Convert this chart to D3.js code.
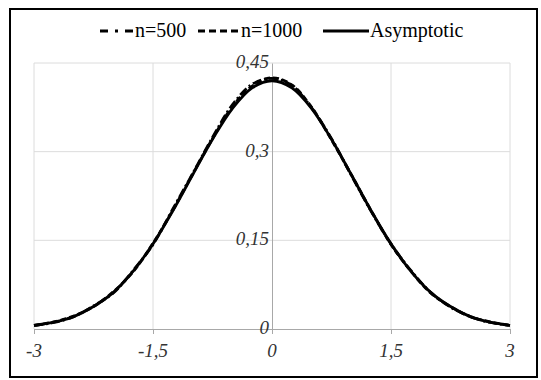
<!DOCTYPE html>
<html><head><meta charset="utf-8">
<script src="https://cdnjs.cloudflare.com/ajax/libs/d3/7.8.5/d3.min.js"></script>
<style>body{margin:0;background:#fff}svg{display:block}</style>
</head><body><svg id="c" width="541" height="380"></svg>
<script>
const xs = [-3,-2.75,-2.5,-2.25,-2,-1.75,-1.5,-1.25,-1,-0.75,-0.5,-0.25,0,0.25,0.5,0.75,1,1.25,1.5,1.75,2,2.25,2.5,2.75,3];
const asymptotic = [0.006,0.0115,0.021,0.038,0.062,0.098,0.144,0.200,0.261,0.321,0.373,0.408,0.420,0.408,0.373,0.321,0.261,0.200,0.144,0.098,0.062,0.038,0.021,0.0115,0.006];
const n500 = [0.006,0.011,0.021,0.039,0.061,0.099,0.143,0.203,0.263,0.324,0.379,0.414,0.424,0.412,0.374,0.322,0.260,0.199,0.144,0.099,0.062,0.037,0.021,0.011,0.006];
const n1000 = [0.006,0.012,0.022,0.038,0.063,0.097,0.145,0.201,0.262,0.322,0.376,0.411,0.425,0.413,0.375,0.320,0.261,0.200,0.143,0.098,0.061,0.038,0.021,0.012,0.006];
const xTicks = [-3,-1.5,0,1.5,3];
const yTicks = [0,0.15,0.3,0.45];
const seriesNames = ["n=500","n=1000","Asymptotic"];

const FONT = "'Times New Roman'";
const svg = d3.select("#c");
const fmt = v => String(v).replace(".", ",");
const x = d3.scaleLinear().domain([-3,3]).range([34,510]);
const y = d3.scaleLinear().domain([0,0.45]).range([329,63]);

// frame
svg.append("rect").attr("x",10).attr("y",9).attr("width",527).attr("height",368)
  .attr("fill","none").attr("stroke","#000").attr("stroke-width",2);

// gridlines
const g = svg.append("g");
g.selectAll(".hg").data(yTicks.filter(d=>d>0)).join("line")
  .attr("x1",x(-3)).attr("x2",x(3)).attr("y1",d=>y(d)).attr("y2",d=>y(d))
  .attr("stroke","#dcdcdc").attr("stroke-width",1);
g.selectAll(".vg").data(xTicks.filter(d=>d!==0)).join("line")
  .attr("x1",d=>x(d)).attr("x2",d=>x(d)).attr("y1",y(0.45)).attr("y2",y(0))
  .attr("stroke","#dcdcdc").attr("stroke-width",1);

// x axis line at y=0 with ticks
const xa = svg.append("g").attr("transform",`translate(0,${y(0)})`)
  .call(d3.axisBottom(x).tickValues(xTicks).tickSize(5).tickFormat(""));
xa.select(".domain").attr("stroke","#a8a8a8");
xa.selectAll(".tick line").attr("stroke","#a8a8a8");

// y axis at x=0
const ya = svg.append("g").attr("transform",`translate(${x(0)},0)`)
  .call(d3.axisLeft(y).tickValues(yTicks).tickSize(0).tickFormat(""));
ya.select(".domain").attr("stroke","#a8a8a8");

// tick labels
svg.selectAll(".xl").data(xTicks).join("text")
  .attr("x",d=>x(d)).attr("y",357).attr("text-anchor","middle")
  .style("font-family",FONT).style("font-style","italic").style("font-size","19px")
  .attr("fill","#333").text(fmt);
svg.selectAll(".yl").data(yTicks).join("text")
  .attr("x",x(0)-3).attr("y",d=>y(d)+5).attr("text-anchor","end")
  .style("font-family",FONT).style("font-style","italic").style("font-size","19px")
  .attr("fill","#333").text(fmt);

// lines
const pts = arr => xs.map((v,i)=>[v,arr[i]]);
const line = d3.line().x(d=>x(d[0])).y(d=>y(d[1])).curve(d3.curveCatmullRom);
svg.append("path").attr("d",line(pts(asymptotic))).attr("fill","none")
  .attr("stroke","#000").attr("stroke-width",2.8);
svg.append("path").attr("d",line(pts(n1000))).attr("fill","none")
  .attr("stroke","#000").attr("stroke-width",2.8).attr("stroke-dasharray","6,3");
svg.append("path").attr("d",line(pts(n500))).attr("fill","none")
  .attr("stroke","#000").attr("stroke-width",2.8).attr("stroke-dasharray","9,3,2,3");

// legend
const legend = [
  {name:seriesNames[0], dash:"8,7,3,7", x0:100, x1:134},
  {name:seriesNames[1], dash:"7,4", x0:198, x1:240},
  {name:seriesNames[2], dash:null, x0:323, x1:369}
];
const lg = svg.append("g");
legend.forEach(l=>{
  lg.append("line").attr("x1",l.x0).attr("x2",l.x1).attr("y1",31).attr("y2",31)
    .attr("stroke","#000").attr("stroke-width",3).attr("stroke-dasharray",l.dash);
  lg.append("text").attr("x",l.x1+1).attr("y",37)
    .style("font-family",FONT).style("font-size","20px")
    .attr("fill","#000").text(l.name);
});
</script></body></html>
